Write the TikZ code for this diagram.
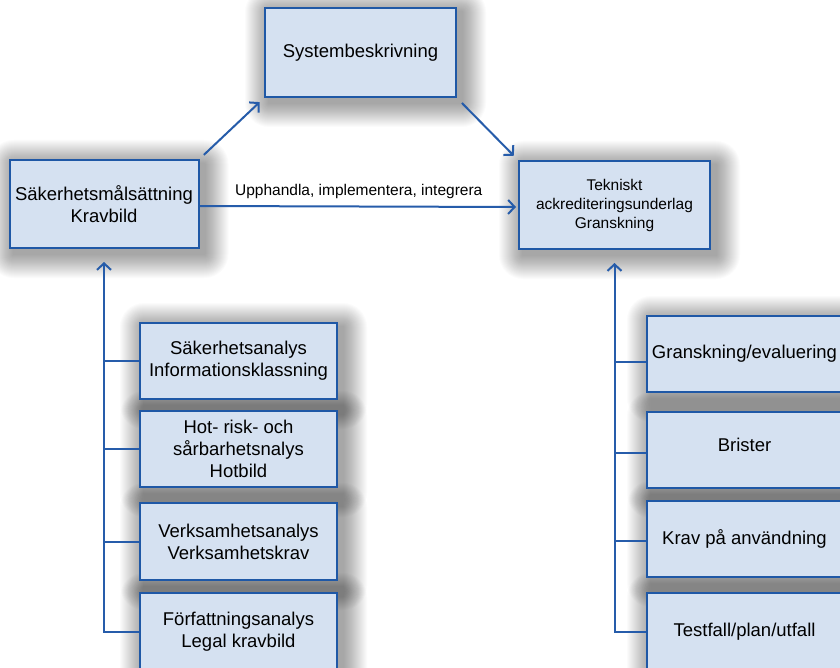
\documentclass[tikz,border=0pt]{standalone}
\usepackage{fontspec}
\setmainfont{Liberation Sans}
\usetikzlibrary{arrows.meta}

\definecolor{boxfill}{RGB}{213,225,241}
\definecolor{boxline}{RGB}{31,88,166}
\definecolor{linkcol}{RGB}{38,92,170}

\pgfdeclarelayer{paper}
\pgfdeclarelayer{shade}
\pgfsetlayers{paper,shade,main}

\tikzset{
  box/.style={draw=boxline, fill=boxfill, line width=2pt, align=center,
    inner sep=0pt, font=\fontsize{18.5}{22}\selectfont},
  leftbox/.style={box, minimum width=197pt},
  rightbox/.style={box, minimum width=195pt},
  link/.style={draw=linkcol, line width=2pt},
  arr/.style={link, -{Straight Barb[length=6.5pt,width=14pt,line width=2pt]}},
}

% soft drop shadow under a box: stacked, growing translucent rectangles
\newcommand\dropshade[1]{%
  \foreach \r in {1,...,24}{%
    \fill[black, opacity=0.017, rounded corners=\r pt]
      ([xshift=5pt-\r pt, yshift=-5pt+\r pt]#1.north west) rectangle
      ([xshift=5pt+\r pt, yshift=-5pt-\r pt]#1.south east);
  }}

\begin{document}
\begin{tikzpicture}[x=1pt,y=-1pt]
  \clip (0,0) rectangle (840,668);
  \begin{pgfonlayer}{paper}
    \fill[white] (0,0) rectangle (840,668);
  \end{pgfonlayer}

  % top row
  \node[box, minimum width=191pt, minimum height=89pt] (sys) at (360.5,52.5) {Systembeskrivning};
  \node[box, minimum width=189pt, minimum height=88pt] (sak) at (104,204) {Säkerhetsmålsättning\\Kravbild};
  \node[box, minimum width=191pt, minimum height=88pt,
        font=\fontsize{15.5}{19}\selectfont] (tek) at (614.5,205)
        {Tekniskt\\ackrediteringsunderlag\\Granskning};

  % left column
  \node[leftbox, minimum height=76pt] (l1) at (238.5,361) {Säkerhetsanalys\\Informationsklassning};
  \node[leftbox, minimum height=76pt] (l2) at (238.5,449) {Hot- risk- och\\sårbarhetsnalys\\Hotbild};
  \node[leftbox, minimum height=77pt] (l3) at (238.5,541.5) {Verksamhetsanalys\\Verksamhetskrav};
  \node[leftbox, minimum height=77pt] (l4) at (238.5,631.5) {Författningsanalys\\Legal kravbild};

  % right column
  \node[rightbox, minimum height=76pt] (r1) at (744.5,354) {Granskning/evaluering};
  \node[rightbox, minimum height=76pt, text depth=10pt] (r2) at (744.5,450) {Brister};
  \node[rightbox, minimum height=76pt] (r3) at (744.5,539) {Krav på användning};
  \node[rightbox, minimum height=77pt] (r4) at (744.5,631.5) {Testfall/plan/utfall};

  % shadows beneath every box
  \begin{pgfonlayer}{shade}
    \foreach \b in {sys,sak,tek,l1,l2,l3,l4,r1,r2,r3,r4}{\dropshade{\b}}
  \end{pgfonlayer}

  % top connectors
  \draw[arr, shorten <=6pt, shorten >=6pt] (sak.north east) -- (sys.south west);
  \draw[arr, shorten <=7pt, shorten >=6pt] (sys.south east) -- (tek.north west);
  \draw[arr, shorten >=2pt] ([yshift=-2pt]sak.east) -- node[above=3pt, font=\fontsize{15.5}{19}\selectfont]
        {Upphandla, implementera, integrera} ([yshift=-2pt]tek.west);

  % left tree
  \draw[arr, shorten >=13pt] (l4.west) -| (sak.south);
  \draw[link] (l1.west) -- (l1.west -| sak.south);
  \draw[link] (l2.west) -- (l2.west -| sak.south);
  \draw[link] (l3.west) -- (l3.west -| sak.south);

  % right tree
  \draw[arr, shorten >=13pt] (r4.west) -| (tek.south);
  \draw[link] ([yshift=-8pt]r1.west) -- ([yshift=-8pt]r1.west -| tek.south);
  \draw[link] ([yshift=-3pt]r2.west) -- ([yshift=-3pt]r2.west -| tek.south);
  \draw[link] ([yshift=-2pt]r3.west) -- ([yshift=-2pt]r3.west -| tek.south);
\end{tikzpicture}
\end{document}
